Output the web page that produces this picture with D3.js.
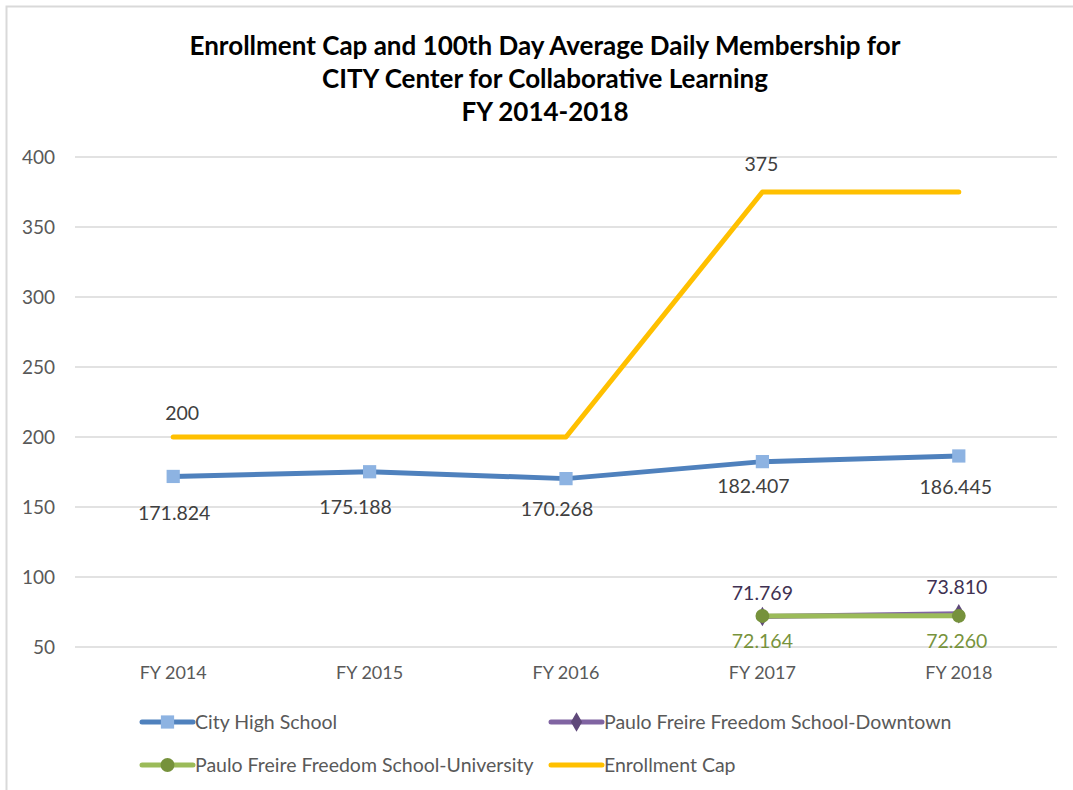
<!DOCTYPE html>
<html lang="en">
  <head>
    <meta charset="UTF-8" />
    <title>Enrollment Cap and ADM</title>
    <script src="https://cdnjs.cloudflare.com/ajax/libs/d3/7.8.5/d3.min.js"></script>
    <style>
      body { margin: 0; background: #fff; }
      text { font-family: Lato, "Open Sans", sans-serif; }
      .y-axis .tick text { fill: #595959; font-size: 19px; }
      .x-axis .tick text { fill: #595959; font-size: 18px; }
      .label { font-size: 19.5px; }
      .legend text { fill: #595959; font-size: 19.5px; }
    </style>
  </head>
  <body>
    <div id="chart"></div>
    <script>
      // chart data
      const years = ["FY 2014", "FY 2015", "FY 2016", "FY 2017", "FY 2018"];
      const cityHigh = [171.824, 175.188, 170.268, 182.407, 186.445];
      const downtown = [null, null, null, 71.769, 73.81];
      const university = [null, null, null, 72.164, 72.26];
      const enrollmentCap = [200, 200, 200, 375, 375];
      const yTicks = [50, 100, 150, 200, 250, 300, 350, 400];

      const W = 1073, H = 790;
      const svg = d3.select("#chart").append("svg")
        .attr("width", W).attr("height", H);

      // outer chart border (only top/left visible in frame)
      svg.append("rect")
        .attr("x", 6.5).attr("y", 6.5)
        .attr("width", W + 20).attr("height", H + 20)
        .attr("fill", "#fff").attr("stroke", "#d9d9d9").attr("stroke-width", 2);

      const x = d3.scaleBand().domain(years).range([75, 1057]);
      const y = d3.scaleLinear().domain([50, 400]).range([647, 157]);
      const cx = (i) => x(years[i]) + x.bandwidth() / 2;

      // title
      const title = ["Enrollment Cap and 100th Day Average Daily Membership for",
        "CITY Center for Collaborative Learning", "FY 2014-2018"];
      svg.append("g").selectAll("text").data(title).enter().append("text")
        .attr("x", 545).attr("y", (d, i) => 55 + i * 33)
        .attr("text-anchor", "middle")
        .style("font-size", "26px").style("font-weight", "bold").attr("fill", "#000")
        .text((d) => d);

      // gridlines
      svg.append("g").selectAll("line").data(yTicks).enter().append("line")
        .attr("x1", 75).attr("x2", 1057)
        .attr("y1", (d) => y(d)).attr("y2", (d) => y(d))
        .attr("stroke", "#d9d9d9").attr("stroke-width", 1.5);

      // axes
      svg.append("g").attr("class", "y-axis").attr("transform", "translate(75,0)")
        .call(d3.axisLeft(y).tickValues(yTicks).tickSize(0).tickPadding(20))
        .call((g) => g.select(".domain").remove());
      svg.append("g").attr("class", "x-axis").attr("transform", "translate(0,664)")
        .call(d3.axisBottom(x).tickSize(0).tickPadding(2))
        .call((g) => g.select(".domain").remove());

      const series = [
        { name: "City High School", vals: cityHigh, line: "#4f81bd", marker: "square", mfill: "#8db3e2", lab: "#404040",
          dx: [1, -14, -9, -9, -3], dy: [37, 35, 31, 25, 31] },
        { name: "Paulo Freire Freedom School-Downtown", vals: downtown, line: "#8064a2", marker: "diamond", mfill: "#5f497a", lab: "#403152",
          dx: [0, 0, 0, 0, -2], dy: [0, 0, 0, -23, -26] },
        { name: "Paulo Freire Freedom School-University", vals: university, line: "#9bbb59", marker: "circle", mfill: "#76923c", lab: "#77933c",
          dx: [0, 0, 0, 0, -2], dy: [0, 0, 0, 25, 25] },
        { name: "Enrollment Cap", vals: enrollmentCap, line: "#ffc000", marker: null, mfill: null, lab: "#404040",
          dx: [9, 0, 0, -1, 0], dy: [-24, 0, 0, -28, 0], only: [0, 3] }
      ];

      const lineGen = d3.line()
        .defined((d) => d.v != null)
        .x((d) => cx(d.i)).y((d) => y(d.v));

      const symbolFor = (m) => m === "square" ? d3.symbolSquare : m === "diamond" ? d3.symbolDiamond : d3.symbolCircle;
      const sizeFor = (m) => m === "square" ? 175 : m === "diamond" ? 110 : 150;

      // cap drawn first so City High sits on top
      const order = [3, 0, 1, 2];
      order.forEach((k) => {
        const s = series[k];
        const pts = s.vals.map((v, i) => ({ v, i }));
        svg.append("path").datum(pts)
          .attr("d", lineGen).attr("fill", "none")
          .attr("stroke", s.line).attr("stroke-width", 5)
          .attr("stroke-linejoin", "round").attr("stroke-linecap", "round");
        if (s.marker) {
          svg.append("g").selectAll("path").data(pts.filter((d) => d.v != null)).enter()
            .append("path")
            .attr("d", d3.symbol().type(symbolFor(s.marker)).size(sizeFor(s.marker)))
            .attr("transform", (d) => `translate(${cx(d.i)},${y(d.v)})`)
            .attr("fill", s.mfill);
        }
        svg.append("g").selectAll("text")
          .data(pts.filter((d) => d.v != null && (!s.only || s.only.includes(d.i)))).enter()
          .append("text").attr("class", "label")
          .attr("x", (d) => cx(d.i) + s.dx[d.i])
          .attr("y", (d) => y(d.v) + s.dy[d.i])
          .attr("dy", "0.35em")
          .attr("text-anchor", "middle").attr("fill", s.lab)
          .text((d) => (s.only ? d3.format("d")(d.v) : d3.format(".3f")(d.v)));
      });

      // legend
      const legPos = [[142, 722], [551, 722], [142, 765], [551, 765]];
      const legend = svg.selectAll(".legend").data(series).enter().append("g")
        .attr("class", "legend")
        .attr("transform", (d, i) => `translate(${legPos[i][0]},${legPos[i][1]})`);
      legend.append("line").attr("x1", 0).attr("x2", 51)
        .attr("stroke", (d) => d.line).attr("stroke-width", 5).attr("stroke-linecap", "round");
      legend.filter((d) => d.marker).append("path")
        .attr("d", (d) => d3.symbol().type(symbolFor(d.marker)).size(sizeFor(d.marker))())
        .attr("transform", "translate(25.5,0)")
        .attr("fill", (d) => d.mfill);
      legend.append("text").attr("x", 53).attr("dy", "0.35em").text((d) => d.name);
    </script>
  </body>
</html>
